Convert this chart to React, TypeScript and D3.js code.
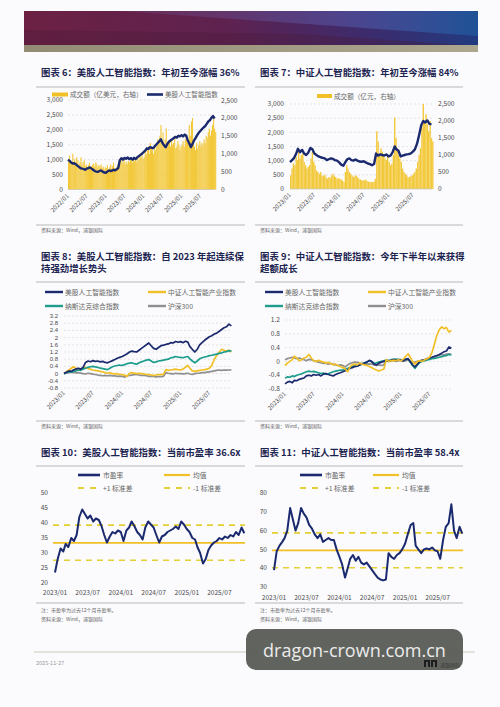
import React from "react";
import * as d3 from "d3";

// ---------------- DATA ----------------
const xLabels6 = ["2022/01", "2022/07", "2023/01", "2023/07", "2024/01", "2024/07", "2025/01", "2025/07"];
const xLabels = ["2023/01", "2023/07", "2024/01", "2024/07", "2025/01", "2025/07"];
const ticksVol = [0, 500, 1000, 1500, 2000, 2500, 3000];
const ticksVolR = [0, 500, 1000, 1500, 2000, 2500];
const ticks8 = [-0.8, -0.4, 0, 0.4, 0.8, 1.2, 1.6, 2, 2.4, 2.8, 3.2];
const ticks9 = [-0.8, -0.4, 0, 0.4, 0.8, 1.2];
const ticks10 = [20, 25, 30, 35, 40, 45, 50];
const ticks11 = [30, 40, 50, 60, 70, 80];

// Fig 6: US AI index (left axis, semi-monthly from 2022/01)
const usIndex6 = [
  1000, 960, 900, 870, 880, 850, 800, 760, 720, 700, 690, 660, 700, 720, 740, 700, 660, 620, 600, 590, 620, 640, 600, 570,
  560, 600, 640, 620, 630, 660, 640, 680, 720, 980, 1050, 1000, 1060, 1030, 1070, 1020, 1050, 1000, 1060, 1020, 1080, 1120, 1160, 1200,
  1250, 1300, 1380, 1360, 1420, 1400, 1380, 1440, 1500, 1560, 1620, 1680, 1560, 1480, 1420, 1520, 1600, 1640, 1680, 1720, 1760, 1740, 1800, 1780,
  1820, 1780, 1840, 1800, 1650, 1550, 1420, 1520, 1640, 1720, 1820, 1900, 1960, 2020, 2080, 2120, 2200, 2280, 2320, 2400, 2460, 2380,
];
// Fig 6: turnover, 100m USD (right axis, ~10-day from 2022/01)
const usVolume6 = [
  800, 950, 720, 780, 1000, 700, 850, 760, 900, 820, 700, 760, 900, 680, 760, 820, 650, 700, 620, 680, 750, 600, 650, 700, 720, 640, 760, 700, 620, 680, 650, 700, 600, 640, 560, 620,
  600, 680, 560, 620, 700, 580, 650, 750, 600, 560, 620, 680, 620, 700, 900, 800, 760, 850, 700, 780, 720, 800, 760, 850, 820, 750, 900, 800, 860, 780, 880, 820, 950, 900, 1000, 850,
  900, 1050, 980, 1100, 1200, 1000, 1300, 1150, 1100, 1000, 1250, 1100, 1200, 1400, 1300, 1500, 1800, 1350, 1600, 1250, 1400, 1700, 1200, 1300, 1350, 1200, 1400, 1250, 1300, 1500, 1150, 1200, 1350, 1250, 1100, 1200,
  1250, 1350, 1200, 1400, 1500, 1300, 1350, 1800, 1500, 1900, 2000, 1400, 1200, 1100, 1300, 1150, 1250, 1350, 1200, 1300, 1250, 1400, 1300, 1500, 1450, 1600, 1700, 1500, 1650, 1800, 2050, 1700, 1600,
];
// Fig 7: CSI AI index (left axis, semi-monthly from 2023/01)
const cnIndex7 = [
  950, 1020, 1100, 1250, 1420, 1300, 1380, 1250, 1200, 1280, 1450, 1400, 1250, 1200, 1150, 1120, 1100, 1080, 1020, 1050, 1080, 1060, 1020, 1000,
  940, 860, 820, 950, 1050, 1080, 1020, 1000, 1040, 1000, 970, 960, 980, 940, 900, 880, 840, 880, 1250, 1180, 1220, 1200, 1180, 1220,
  1150, 1180, 1300, 1500, 1400, 1350, 1150, 1180, 1200, 1220, 1230, 1260, 1320, 1400, 1600, 1900, 2250, 2400, 2350, 2420, 2300, 2280,
];
// Fig 7: turnover, 100m CNY (right axis, ~10-day from 2023/01)
const cnVolume7 = [
  400, 600, 750, 700, 950, 850, 1100, 900, 1000, 1050, 800, 700, 600, 650, 700, 900, 1100, 800, 700, 550, 500, 450, 500, 400, 380, 420, 350, 300, 350, 330, 400, 450, 380, 350, 300, 320,
  300, 280, 250, 200, 500, 700, 600, 500, 450, 400, 350, 380, 400, 350, 300, 280, 250, 260, 250, 280, 230, 220, 200, 210, 200, 220, 300, 1700, 1400, 1000, 1200, 1100, 1000, 900, 850, 950,
  800, 700, 750, 1000, 2100, 1500, 1200, 1000, 900, 800, 600, 500, 450, 400, 350, 350, 380, 400, 450, 500, 600, 800, 1000, 1200, 1800, 2500, 2000, 2200, 1900, 1700, 2000, 1500, 1400,
];
// Fig 8: cumulative return since 2023/01 (semi-monthly)
const f8UsAI = [
  0, 0.08, 0.15, 0.12, 0.2, 0.25, 0.3, 0.25, 0.35, 0.62, 0.7, 0.66, 0.72, 0.68, 0.7, 0.65, 0.68, 0.62, 0.6, 0.66, 0.72, 0.78, 0.85, 0.9,
  0.95, 1.02, 1.1, 1.2, 1.25, 1.22, 1.2, 1.3, 1.4, 1.5, 1.6, 1.7, 1.55, 1.4, 1.35, 1.45, 1.55, 1.58, 1.62, 1.65, 1.72, 1.7, 1.78, 1.74,
  1.78, 1.72, 1.8, 1.75, 1.5, 1.35, 1.2, 1.35, 1.6, 1.72, 1.85, 1.95, 2.05, 2.1, 2.2, 2.25, 2.35, 2.45, 2.55, 2.6, 2.75, 2.65,
];
const f8CnAI = [
  0, 0.1, 0.2, 0.3, 0.38, 0.3, 0.2, 0.25, 0.3, 0.35, 0.28, 0.25, 0.2, 0.18, 0.15, 0.12, 0.1, 0.05, 0.02, 0.05, 0, -0.02, 0, -0.05,
  -0.05, -0.1, -0.15, 0.02, 0.05, 0.03, 0, 0.02, 0, -0.02, -0.05, -0.05, -0.08, -0.1, -0.08, -0.05, -0.06, -0.04, 0.22, 0.18, 0.2, 0.22, 0.25, 0.22,
  0.2, 0.25, 0.35, 0.45, 0.3, 0.15, 0.12, 0.15, 0.18, 0.2, 0.22, 0.25, 0.3, 0.45, 0.8, 1.0, 1.2, 1.35, 1.3, 1.25, 1.3, 1.2,
];
const f8Nasdaq = [
  0, 0.05, 0.1, 0.08, 0.12, 0.15, 0.2, 0.18, 0.25, 0.3, 0.35, 0.38, 0.4, 0.37, 0.35, 0.3, 0.28, 0.25, 0.22, 0.3, 0.38, 0.42, 0.45, 0.48,
  0.45, 0.5, 0.55, 0.58, 0.6, 0.55, 0.52, 0.6, 0.65, 0.7, 0.75, 0.78, 0.7, 0.62, 0.65, 0.7, 0.72, 0.75, 0.78, 0.8, 0.88, 0.9, 0.95, 0.92,
  0.9, 0.88, 0.92, 0.95, 0.82, 0.7, 0.6, 0.7, 0.82, 0.88, 0.92, 0.95, 1.0, 1.02, 1.05, 1.08, 1.12, 1.15, 1.2, 1.22, 1.28, 1.25,
];
const f8Csi300 = [
  0, 0.03, 0.05, 0.08, 0.06, 0.04, 0.05, 0.03, 0, -0.02, 0.02, 0, -0.03, -0.05, -0.08, -0.1, -0.12, -0.1, -0.12, -0.1, -0.13, -0.12, -0.15, -0.14,
  -0.15, -0.2, -0.12, -0.1, -0.08, -0.06, -0.05, -0.08, -0.1, -0.1, -0.12, -0.15, -0.14, -0.15, -0.18, -0.16, -0.17, -0.15, 0.05, 0.02, 0, -0.02, 0.02, 0,
  0, -0.02, 0, 0.02, -0.02, -0.05, 0, 0.02, 0.03, 0.05, 0.05, 0.08, 0.1, 0.12, 0.15, 0.18, 0.2, 0.18, 0.2, 0.19, 0.2, 0.21,
];
// Fig 9: relative performance (semi-monthly from 2023/01)
const f9UsAI = [
  -0.65, -0.6, -0.58, -0.62, -0.55, -0.56, -0.52, -0.5, -0.48, -0.42, -0.4, -0.42, -0.38, -0.4, -0.38, -0.42, -0.37, -0.35, -0.38, -0.4, -0.42, -0.38, -0.35, -0.33,
  -0.3, -0.27, -0.25, -0.2, -0.18, -0.15, -0.14, -0.1, -0.08, -0.05, -0.02, 0.03, 0, -0.08, -0.1, -0.05, -0.02, 0, 0.02, 0, 0.03, 0.05, 0.03, 0.05,
  0.04, 0.02, 0.06, 0.08, 0, -0.1, -0.16, -0.08, 0, 0.03, 0.05, 0.08, 0.1, 0.12, 0.15, 0.17, 0.2, 0.24, 0.28, 0.3, 0.42, 0.38,
];
const f9CnAI = [
  -0.12, -0.05, 0, 0.05, 0.15, 0.1, 0.02, 0.05, 0.1, 0.12, 0.2, 0.1, 0.02, 0, 0.03, 0, -0.02, -0.05, -0.03, -0.06, -0.1, -0.08, -0.12, -0.15,
  -0.18, -0.22, -0.3, -0.15, -0.1, -0.08, -0.1, -0.05, -0.08, -0.1, -0.12, -0.15, -0.18, -0.22, -0.25, -0.28, -0.25, -0.22, 0.05, 0, 0.02, 0.03, 0.02, 0.05,
  0.02, 0.06, 0.15, 0.22, 0.12, 0, -0.08, 0, 0.02, 0, 0.05, 0.08, 0.12, 0.25, 0.5, 0.75, 0.92, 1.0, 0.95, 0.98, 0.85, 0.9,
];
const f9Nasdaq = [
  -0.48, -0.45, -0.46, -0.42, -0.44, -0.4, -0.38, -0.36, -0.33, -0.3, -0.28, -0.3, -0.29, -0.31, -0.33, -0.35, -0.34, -0.37, -0.36, -0.33, -0.3, -0.28, -0.27, -0.25,
  -0.25, -0.22, -0.2, -0.17, -0.15, -0.12, -0.14, -0.1, -0.07, -0.05, -0.02, 0.02, -0.02, -0.06, -0.04, -0.02, 0, 0.02, 0.03, 0.02, 0.05, 0.06, 0.07, 0.05,
  0.05, 0.04, 0.06, 0.07, -0.02, -0.12, -0.2, -0.1, -0.03, 0, 0.02, 0.04, 0.06, 0.08, 0.09, 0.1, 0.12, 0.14, 0.16, 0.17, 0.2, 0.19,
];
const f9Csi300 = [
  0.05, 0.08, 0.1, 0.12, 0.1, 0.08, 0.1, 0.07, 0.05, 0.02, 0.06, 0.05, 0.02, 0, -0.02, -0.04, -0.06, -0.05, -0.08, -0.06, -0.08, -0.1, -0.12, -0.1,
  -0.12, -0.16, -0.1, -0.06, -0.04, -0.02, -0.03, -0.05, -0.06, -0.05, -0.08, -0.07, -0.08, -0.1, -0.12, -0.1, -0.12, -0.1, 0.05, 0.02, 0.03, 0.02, 0, 0.02,
  0.02, 0, 0.02, 0.04, 0, -0.04, -0.02, 0, 0.02, 0.03, 0.04, 0.06, 0.08, 0.1, 0.12, 0.15, 0.18, 0.2, 0.19, 0.21, 0.22, 0.2,
];
// Fig 10: US AI index trailing PE (semi-monthly from 2023/01)
const pe10 = [
  23.5, 28, 31.5, 30.5, 33, 32, 35, 34, 36, 42, 44.5, 43, 41.5, 42.5, 40.5, 41.5, 41, 39, 36, 33.5, 35.5, 37, 36.5, 37.5,
  37, 34, 37.5, 38.5, 40.5, 39, 37, 36, 34.5, 38.5, 40.5, 39.5, 38.5, 36, 33.5, 35.5, 36, 37, 37.5, 38, 38.8, 38, 40.5, 39.5,
  38, 37, 35, 34.5, 32, 30, 26.5, 28, 31, 32.5, 33.5, 34, 35, 34.5, 35.5, 35, 36, 35.5, 37, 36, 38.5, 36.6,
];
const pe10Stats = [33.4, 39.3, 27.6]; // mean, +1 sd, -1 sd
// Fig 11: CSI AI index trailing PE (semi-monthly from 2023/01)
const pe11 = [
  39, 49, 52, 54, 56, 60, 72, 66, 60, 64, 72, 69, 67, 63, 61, 58, 56, 58, 54, 55, 56, 55, 55, 50,
  46, 42, 35, 40, 45, 47, 44, 46, 43, 42, 43, 41, 39, 37, 35, 34, 33.5, 34, 48, 46, 45, 47, 48, 50,
  53, 58, 63, 64, 52, 50, 48, 50, 50.5, 50, 51, 49.5, 49, 45, 55, 62, 64, 74, 60, 56, 62, 58.4,
];
const pe11Stats = [49.5, 58.8, 40.2];

const legend89 = ["美股人工智能指数", "中证人工智能产业指数", "纳斯达克综合指数", "沪深300"];
const legendPE = ["市盈率", "均值", "+1 标准差", "-1 标准差"];
const titles = [
  "图表 6：美股人工智能指数：年初至今涨幅 36%",
  "图表 7：中证人工智能指数：年初至今涨幅 84%",
  "图表 8：美股人工智能指数：自 2023 年起连续保",
  "持强劲增长势头",
  "图表 9：中证人工智能指数：今年下半年以来获得",
  "超额成长",
  "图表 10：美股人工智能指数：当前市盈率 36.6x",
  "图表 11：中证人工智能指数：当前市盈率 58.4x",
];
const SOURCE = "资料来源：Wind，浦银国际";
const NOTE = "注：市盈率为过去12个月市盈率。";

// ---------------- STYLE ----------------
const F = '"Noto Sans CJK SC", "Noto Sans", sans-serif';
const FN = '"Liberation Sans", "Noto Sans", sans-serif';
const NAVY = "#1b2a6e";
const GOLD = "#f1bf26";
const BAR = "#f3c93c";
const TEAL = "#1e9c8c";
const GRAY = "#8f8f8f";
const DASHY = "#e4d034";
const TITLE = "#1b2350";
const LAB = "#4a4a4a";

const parseYM = d3.timeParse("%Y/%m");
const semi = (y: number, m: number, n: number) =>
  d3.range(n).map((i) => new Date(y, m + Math.floor(i / 2), i % 2 ? 16 : 1));
const tenDay = (y: number, m: number, n: number) =>
  d3.range(n).map((i) => new Date(y, m + Math.floor(i / 3), 1 + 10 * (i % 3)));

const END = new Date(2025, 10, 20);

function linePath(dates: Date[], vals: number[], x: any, y: any) {
  return d3.line<number>().x((_, i) => x(dates[i])).y((d) => y(d))(vals) || "";
}

function RotLabels({ x, labels, y }: { x: any; labels: string[]; y: number }) {
  return (
    <g>
      {labels.map((l) => (
        <text key={l} transform={`translate(${x(parseYM(l))},${y}) rotate(-45)`} textAnchor="end"
          fontSize={6.2} fill={LAB} fontFamily={F} dy={2}>{l}</text>
      ))}
    </g>
  );
}

function YLabels({ y, ticks, xPos, anchor, fmt, size = 6.6, font = F }: any) {
  return (
    <g>
      {ticks.map((t: number) => (
        <text key={t} x={xPos} y={y(t)} dy={size * 0.34} textAnchor={anchor} fontSize={size} fill={LAB} fontFamily={font}>
          {fmt(t)}
        </text>
      ))}
    </g>
  );
}

const fmtK = d3.format(",");
const fmtR = (v: number) => String(Math.round(v * 10) / 10);

function Grid({ y, ticks, x0, x1, skip0 = true }: any) {
  return (
    <g>
      {ticks.filter((t: number) => !(skip0 && t === ticks[0])).map((t: number) => (
        <line key={t} x1={x0} x2={x1} y1={y(t)} y2={y(t)} stroke="#d4d4d4" strokeWidth={0.6} strokeDasharray="2,2" />
      ))}
    </g>
  );
}

// ---------------- CHARTS ----------------
function Chart6() {
  const x = d3.scaleTime().domain([new Date(2022, 0, 1), END]).range([68, 215]);
  const yL = d3.scaleLinear().domain([0, 3000]).range([189.5, 100]);
  const yR = d3.scaleLinear().domain([0, 2500]).range([189.5, 100]);
  const dL = semi(2022, 0, usIndex6.length);
  const dV = tenDay(2022, 0, usVolume6.length);
  return (
    <g>
      <Grid y={yL} ticks={ticksVol} x0={68} x1={215} />
      {usVolume6.map((v, i) => (
        <rect key={i} x={x(dV[i])} y={yR(v)} width={1.15} height={189.5 - yR(v)} fill={BAR} />
      ))}
      <line x1={68} x2={215} y1={189.5} y2={189.5} stroke="#bdbdbd" strokeWidth={0.6} />
      <path d={linePath(dL, usIndex6, x, yL)} fill="none" stroke={NAVY} strokeWidth={2.4} strokeLinejoin="round" />
      <YLabels y={yL} ticks={ticksVol} xPos={63} anchor="end" fmt={fmtK} />
      <YLabels y={yR} ticks={ticksVolR.slice(0, 5)} xPos={221} anchor="start" fmt={fmtK} />
      <text x={221} y={103} textAnchor="start" fontSize={6.6} fill={LAB} fontFamily={F}>2,500</text>
      <RotLabels x={x} labels={xLabels6} y={195} />
      <rect x={52} y={92.5} width={16} height={4} fill={GOLD} />
      <text x={70} y={97} fontSize={6.6} fill="#666" fontFamily={F}>成交额（亿美元，右轴）</text>
      <line x1={147} x2={163} y1={94.5} y2={94.5} stroke={NAVY} strokeWidth={2.6} />
      <text x={165} y={97} fontSize={6.6} fill="#666" fontFamily={F}>美股人工智能指数</text>
    </g>
  );
}

function Chart7() {
  const x = d3.scaleTime().domain([new Date(2023, 0, 1), END]).range([290, 432]);
  const yL = d3.scaleLinear().domain([0, 3000]).range([189, 104]);
  const yR = d3.scaleLinear().domain([0, 2500]).range([189, 104]);
  const dL = semi(2023, 0, cnIndex7.length);
  const dV = tenDay(2023, 0, cnVolume7.length);
  return (
    <g>
      <Grid y={yL} ticks={ticksVol} x0={290} x1={432} />
      {cnVolume7.map((v, i) => (
        <rect key={i} x={x(dV[i])} y={yR(v)} width={1.4} height={189 - yR(v)} fill={BAR} />
      ))}
      <line x1={290} x2={432} y1={189} y2={189} stroke="#bdbdbd" strokeWidth={0.6} />
      <path d={linePath(dL, cnIndex7, x, yL)} fill="none" stroke={NAVY} strokeWidth={2.4} strokeLinejoin="round" />
      <YLabels y={yL} ticks={ticksVol} xPos={284} anchor="end" fmt={fmtK} />
      <YLabels y={yR} ticks={ticksVolR} xPos={438} anchor="start" fmt={fmtK} />
      <RotLabels x={x} labels={xLabels} y={194} />
      <rect x={317} y={94} width={15} height={4} fill={GOLD} />
      <text x={334} y={98.5} fontSize={6.6} fill="#666" fontFamily={F}>成交额（亿元，右轴）</text>
    </g>
  );
}

function Legend4({ x0, x1, y0, y1 }: { x0: number; x1: number; y0: number; y1: number }) {
  const items = [
    { c: NAVY, t: legend89[0], x: x0, y: y0 },
    { c: GOLD, t: legend89[1], x: x1, y: y0 },
    { c: TEAL, t: legend89[2], x: x0, y: y1 },
    { c: GRAY, t: legend89[3], x: x1, y: y1 },
  ];
  return (
    <g>
      {items.map((it) => (
        <g key={it.t}>
          <line x1={it.x} x2={it.x + 18} y1={it.y} y2={it.y} stroke={it.c} strokeWidth={2.4} />
          <text x={it.x + 20} y={it.y + 2.5} fontSize={6.8} fill="#666" fontFamily={F}>{it.t}</text>
        </g>
      ))}
    </g>
  );
}

function ReturnChart({ xr, yr, domainY, ticks, series, labelX, labelY, labelSize, labelFont }: any) {
  const x = d3.scaleTime().domain([new Date(2023, 0, 1), END]).range(xr);
  const y = d3.scaleLinear().domain(domainY).range(yr);
  const d = semi(2023, 0, series[0].v.length);
  return (
    <g>
      <Grid y={y} ticks={ticks} x0={xr[0]} x1={xr[1]} skip0={false} />
      {series.map((s: any) => (
        <path key={s.c} d={linePath(d, s.v, x, y)} fill="none" stroke={s.c} strokeWidth={1.7} strokeLinejoin="round" />
      ))}
      <YLabels y={y} ticks={ticks} xPos={labelX} anchor="end" fmt={fmtR} size={labelSize} font={labelFont} />
      <RotLabels x={x} labels={xLabels} y={labelY} />
    </g>
  );
}

function PELegend({ a, b, y0, y1 }: { a: number; b: number; y0: number; y1: number }) {
  return (
    <g fontFamily={F} fontSize={6.8} fill="#666">
      <line x1={a} x2={a + 22} y1={y0} y2={y0} stroke={NAVY} strokeWidth={2.6} />
      <text x={a + 25} y={y0 + 2.5}>{legendPE[0]}</text>
      <line x1={b} x2={b + 26} y1={y0} y2={y0} stroke={GOLD} strokeWidth={2.2} />
      <text x={b + 29} y={y0 + 2.5}>{legendPE[1]}</text>
      <line x1={a} x2={a + 22} y1={y1} y2={y1} stroke={DASHY} strokeWidth={2} strokeDasharray="6,6" />
      <text x={a + 25} y={y1 + 2.5}>{legendPE[2]}</text>
      <line x1={b} x2={b + 26} y1={y1} y2={y1} stroke={DASHY} strokeWidth={2} strokeDasharray="6,6" />
      <text x={b + 29} y={y1 + 2.5}>{legendPE[3]}</text>
    </g>
  );
}

function PEChart({ x0, xEnd, yr, domainY, ticks, vals, stats, labelX, labelY }: any) {
  const x = d3.scaleTime().domain([new Date(2023, 0, 1), END]).range([x0, xEnd]);
  const y = d3.scaleLinear().domain(domainY).range(yr);
  const d = semi(2023, 0, vals.length);
  const left = x0 - 2;
  return (
    <g>
      <line x1={left} x2={xEnd} y1={y(stats[0])} y2={y(stats[0])} stroke={GOLD} strokeWidth={1.8} />
      <line x1={left} x2={xEnd} y1={y(stats[1])} y2={y(stats[1])} stroke={DASHY} strokeWidth={1.6} strokeDasharray="6,5" />
      <line x1={left} x2={xEnd} y1={y(stats[2])} y2={y(stats[2])} stroke={DASHY} strokeWidth={1.6} strokeDasharray="6,5" />
      <path d={linePath(d, vals, x, y)} fill="none" stroke={NAVY} strokeWidth={2} strokeLinejoin="round" />
      <YLabels y={y} ticks={ticks} xPos={labelX} anchor="end" fmt={(v: number) => String(v)} />
      {xLabels.map((l) => (
        <text key={l} x={x(parseYM(l))} y={labelY} textAnchor="middle" fontSize={6.6} fill={LAB} fontFamily={F}>{l}</text>
      ))}
    </g>
  );
}

function Header() {
  return (
    <g>
      <defs>
        <linearGradient id="bn" x1="0" y1="0" x2="1" y2="0">
          <stop offset="0%" stopColor="#6c2143" />
          <stop offset="45%" stopColor="#5e2250" />
          <stop offset="75%" stopColor="#3d2b6c" />
          <stop offset="100%" stopColor="#223a80" />
        </linearGradient>
        <linearGradient id="bn2" x1="0" y1="0" x2="1" y2="0">
          <stop offset="0%" stopColor="#7a4f86" stopOpacity={0.25} />
          <stop offset="60%" stopColor="#5a58a8" stopOpacity={0.55} />
          <stop offset="100%" stopColor="#1f5498" stopOpacity={0.9} />
        </linearGradient>
        <linearGradient id="strip" x1="0" y1="0" x2="1" y2="0">
          <stop offset="0%" stopColor="#928c74" />
          <stop offset="100%" stopColor="#aca78e" />
        </linearGradient>
      </defs>
      <rect x={24} y={11} width={454} height={35} fill="url(#bn)" />
      <polygon points="120,11 478,11 478,36" fill="url(#bn2)" />
      <polygon points="24,30 300,34 478,46 24,46" fill="#4a1a38" opacity={0.35} />
      <rect x={24} y={45} width={454} height={7} fill="url(#strip)" />
    </g>
  );
}

export default function App() {
  return (
    <div style={{ position: "absolute", left: 0, top: 0 }}>
      <svg width={500} height={707} viewBox="0 0 500 707" style={{ display: "block" }}>
        <rect width={500} height={707} fill="#fbfbfd" />
        <Header />
        {/* titles */}
        <g fontFamily={F} fontWeight="bold" fontSize={9.4} fill={TITLE}>
          <text x={41} y={75.5}>{titles[0]}</text>
          <text x={260} y={75.5}>{titles[1]}</text>
          <text x={41} y={259.5}>{titles[2]}</text>
          <text x={41} y={272}>{titles[3]}</text>
          <text x={260} y={259.5}>{titles[4]}</text>
          <text x={260} y={272}>{titles[5]}</text>
          <text x={41} y={455.5}>{titles[6]}</text>
          <text x={260} y={455.5}>{titles[7]}</text>
        </g>
        {/* rules */}
        <g stroke="#8a8a8a" strokeWidth={0.6}>
          <line x1={36} x2={245} y1={87} y2={87} />
          <line x1={255} x2={463} y1={87} y2={87} />
          <line x1={36} x2={245} y1={225} y2={225} />
          <line x1={255} x2={463} y1={225} y2={225} />
          <line x1={36} x2={245} y1={282} y2={282} />
          <line x1={255} x2={463} y1={282} y2={282} />
          <line x1={36} x2={245} y1={421} y2={421} />
          <line x1={255} x2={463} y1={421} y2={421} />
          <line x1={36} x2={245} y1={466} y2={466} />
          <line x1={255} x2={463} y1={466} y2={466} />
          <line x1={36} x2={245} y1={603} y2={603} />
          <line x1={255} x2={463} y1={603} y2={603} />
        </g>
        <Chart6 />
        <Chart7 />
        <Legend4 x0={45} x1={148} y0={292} y1={306} />
        <ReturnChart xr={[64, 232]} yr={[388, 316]} domainY={[-0.8, 3.2]} ticks={ticks8} labelX={58} labelY={392} labelSize={6} labelFont={FN}
          series={[{ c: GRAY, v: f8Csi300 }, { c: GOLD, v: f8CnAI }, { c: TEAL, v: f8Nasdaq }, { c: NAVY, v: f8UsAI }]} />
        <Legend4 x0={265} x1={368} y0={292} y1={306} />
        <ReturnChart xr={[285, 452]} yr={[389, 320]} domainY={[-0.8, 1.2]} ticks={ticks9} labelX={280} labelY={393} labelSize={6.6} labelFont={F}
          series={[{ c: GRAY, v: f9Csi300 }, { c: TEAL, v: f9Nasdaq }, { c: NAVY, v: f9UsAI }, { c: GOLD, v: f9CnAI }]} />
        <PELegend a={78} b={164} y0={475} y1={488} />
        <PEChart x0={55} xEnd={245} yr={[583, 493]} domainY={[20, 50]} ticks={ticks10} vals={pe10} stats={pe10Stats} labelX={48} labelY={595} />
        <PELegend a={300} b={373} y0={475} y1={488} />
        <PEChart x0={274} xEnd={463} yr={[587, 493]} domainY={[30, 80]} ticks={ticks11} vals={pe11} stats={pe11Stats} labelX={267} labelY={600} />
        {/* sources & notes */}
        <g fontFamily={F} fontSize={5} fill="#666">
          <text x={41} y={232}>{SOURCE}</text>
          <text x={260} y={232}>{SOURCE}</text>
          <text x={41} y={428}>{SOURCE}</text>
          <text x={260} y={428}>{SOURCE}</text>
          <text x={41} y={612}>{NOTE}</text>
          <text x={41} y={620.5}>{SOURCE}</text>
          <text x={260} y={612}>{NOTE}</text>
          <text x={260} y={620.5}>{SOURCE}</text>
        </g>
        {/* footer */}
        <line x1={34} x2={475} y1={652} y2={652} stroke="#c9c9c1" strokeWidth={1} />
        <text x={36} y={665} fontSize={5.5} fill="#999" fontFamily={F}>2025-11-27</text>
        <text x={252} y={665} fontSize={5.5} fill="#999" fontFamily={F}>17</text>
        <rect x={246} y={629} width={217} height={41} rx={10} fill="#5b5e57" opacity={0.96} />
        <text x={354.5} y={656.5} textAnchor="middle" fontSize={18} fill="#ececec" fontFamily='"Open Sans", "Noto Sans", sans-serif'>dragon-crown.com.cn</text>
        <g fill="#1e1e1e">
          <path d="M424,660 h6 v7 h-2 v-5 h-2 v5 h-2 z" />
          <path d="M431,660 h6 v7 h-2 v-5 h-2 v5 h-2 z" />
        </g>
        <text x={440} y={667} fontSize={5} fill="#3a3a3a" fontFamily={F}>浦银国际</text>
      </svg>
    </div>
  );
}
